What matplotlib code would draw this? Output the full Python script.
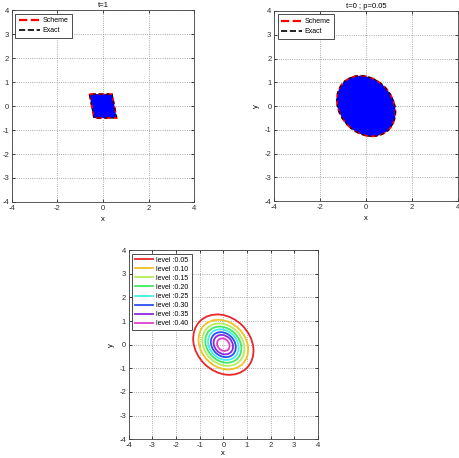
import matplotlib
matplotlib.use("Agg")
import matplotlib.pyplot as plt
from matplotlib.patches import Polygon, Ellipse
from matplotlib.lines import Line2D

plt.rcParams["font.family"] = ["Liberation Sans", "DejaVu Sans"]
plt.rcParams["axes.unicode_minus"] = False

# parallelogram at t=1 (vertices)
para_x = [-0.6, 0.4, 0.6, -0.4]
para_y = [0.5, 0.5, -0.5, -0.5]

# gaussian level sets: ellipse centre, angle, semi-axes per level
centre = (0.0, 0.0)
angle = -45
levels = [0.05, 0.10, 0.15, 0.20, 0.25, 0.30, 0.35, 0.40]
semi_major = [1.40, 1.15, 0.98, 0.84, 0.71, 0.58, 0.45, 0.29]
semi_minor = [1.14, 0.94, 0.80, 0.68, 0.58, 0.47, 0.37, 0.24]
level_colors = ["#e8262a", "#f0c22a", "#b4ee5c", "#44e864", "#44eef0",
                "#2a52ee", "#8a2ae0", "#e040c8"]

fs = 5.5
lfs = 5
fig = plt.figure(figsize=(4.6, 4.58), dpi=100)


def style(ax, xt, yt):
    ax.set_xlim(-4, 4)
    ax.set_ylim(-4, 4)
    ax.set_xticks(xt)
    ax.set_yticks(yt)
    ax.grid(True, linestyle=":", color="#909090", lw=0.6)
    ax.tick_params(direction="in", length=2, width=0.5, labelsize=fs,
                   top=True, right=True, pad=2, labelcolor="#303030")
    for s in ax.spines.values():
        s.set_linewidth(0.6)
        s.set_color("#404040")
    ax.set_axisbelow(True)


def scheme_legend(ax):
    h = [Line2D([], [], color="red", ls="--", lw=1.6),
         Line2D([], [], color="black", ls="--", lw=1.2)]
    leg = ax.legend(h, ["Scheme", "Exact"], loc="upper left", fontsize=lfs,
                    fancybox=False, edgecolor="#303030", framealpha=1,
                    handlelength=3.0, borderpad=0.5, labelspacing=0.45,
                    handletextpad=0.4)
    leg.get_frame().set_linewidth(0.6)


# top left
ax1 = fig.add_axes([0.026, 0.559, 0.396, 0.419])
style(ax1, [-4, -2, 0, 2, 4], range(-4, 5))
xy = list(zip(para_x, para_y))
ax1.add_patch(Polygon(xy, closed=True, facecolor="blue", edgecolor="none"))
ax1.add_patch(Polygon(xy, closed=True, fill=False, edgecolor="red", ls="--", lw=1.2))
ax1.add_patch(Polygon(xy, closed=True, fill=False, edgecolor="black", ls=(3, (3, 3)), lw=0.8))
ax1.set_title("t=1", fontsize=fs, pad=2)
ax1.set_xlabel("x", fontsize=fs, labelpad=3)
scheme_legend(ax1)

# top right
ax2 = fig.add_axes([0.596, 0.561, 0.4, 0.415])
style(ax2, [-4, -2, 0, 2, 4], range(-4, 5))
w, h = 2 * semi_major[0], 2 * semi_minor[0]
ax2.add_patch(Ellipse(centre, w, h, angle=angle, facecolor="blue", edgecolor="none"))
ax2.add_patch(Ellipse(centre, w, h, angle=angle, fill=False, edgecolor="red", ls="--", lw=1.2))
ax2.add_patch(Ellipse(centre, w, h, angle=angle, fill=False, edgecolor="black",
                      ls=(3, (3, 3)), lw=0.8))
ax2.set_title("t=0 ; p=0.05", fontsize=fs, pad=2)
ax2.set_xlabel("x", fontsize=fs, labelpad=3)
ax2.set_ylabel("y", fontsize=fs, labelpad=3)
scheme_legend(ax2)

# bottom: level sets
ax3 = fig.add_axes([0.280, 0.041, 0.411, 0.413])
style(ax3, range(-4, 5), range(-4, 5))
handles = []
for lv, a, b, c in zip(levels, semi_major, semi_minor, level_colors):
    ax3.add_patch(Ellipse(centre, 2 * a, 2 * b, angle=angle, fill=False,
                          edgecolor=c, lw=1.3))
    handles.append(Line2D([], [], color=c, lw=1.3))
labels = ["level :%.2f" % lv for lv in levels]
leg = ax3.legend(handles, labels, loc="upper left", fontsize=lfs, fancybox=False,
                 edgecolor="#303030", framealpha=1, handlelength=2.6,
                 borderpad=0.45, labelspacing=0.3, handletextpad=0.4)
leg.get_frame().set_linewidth(0.6)
ax3.set_xlabel("x", fontsize=fs, labelpad=1)
ax3.set_ylabel("y", fontsize=fs, labelpad=3)

fig.savefig("out.png", dpi=100)
